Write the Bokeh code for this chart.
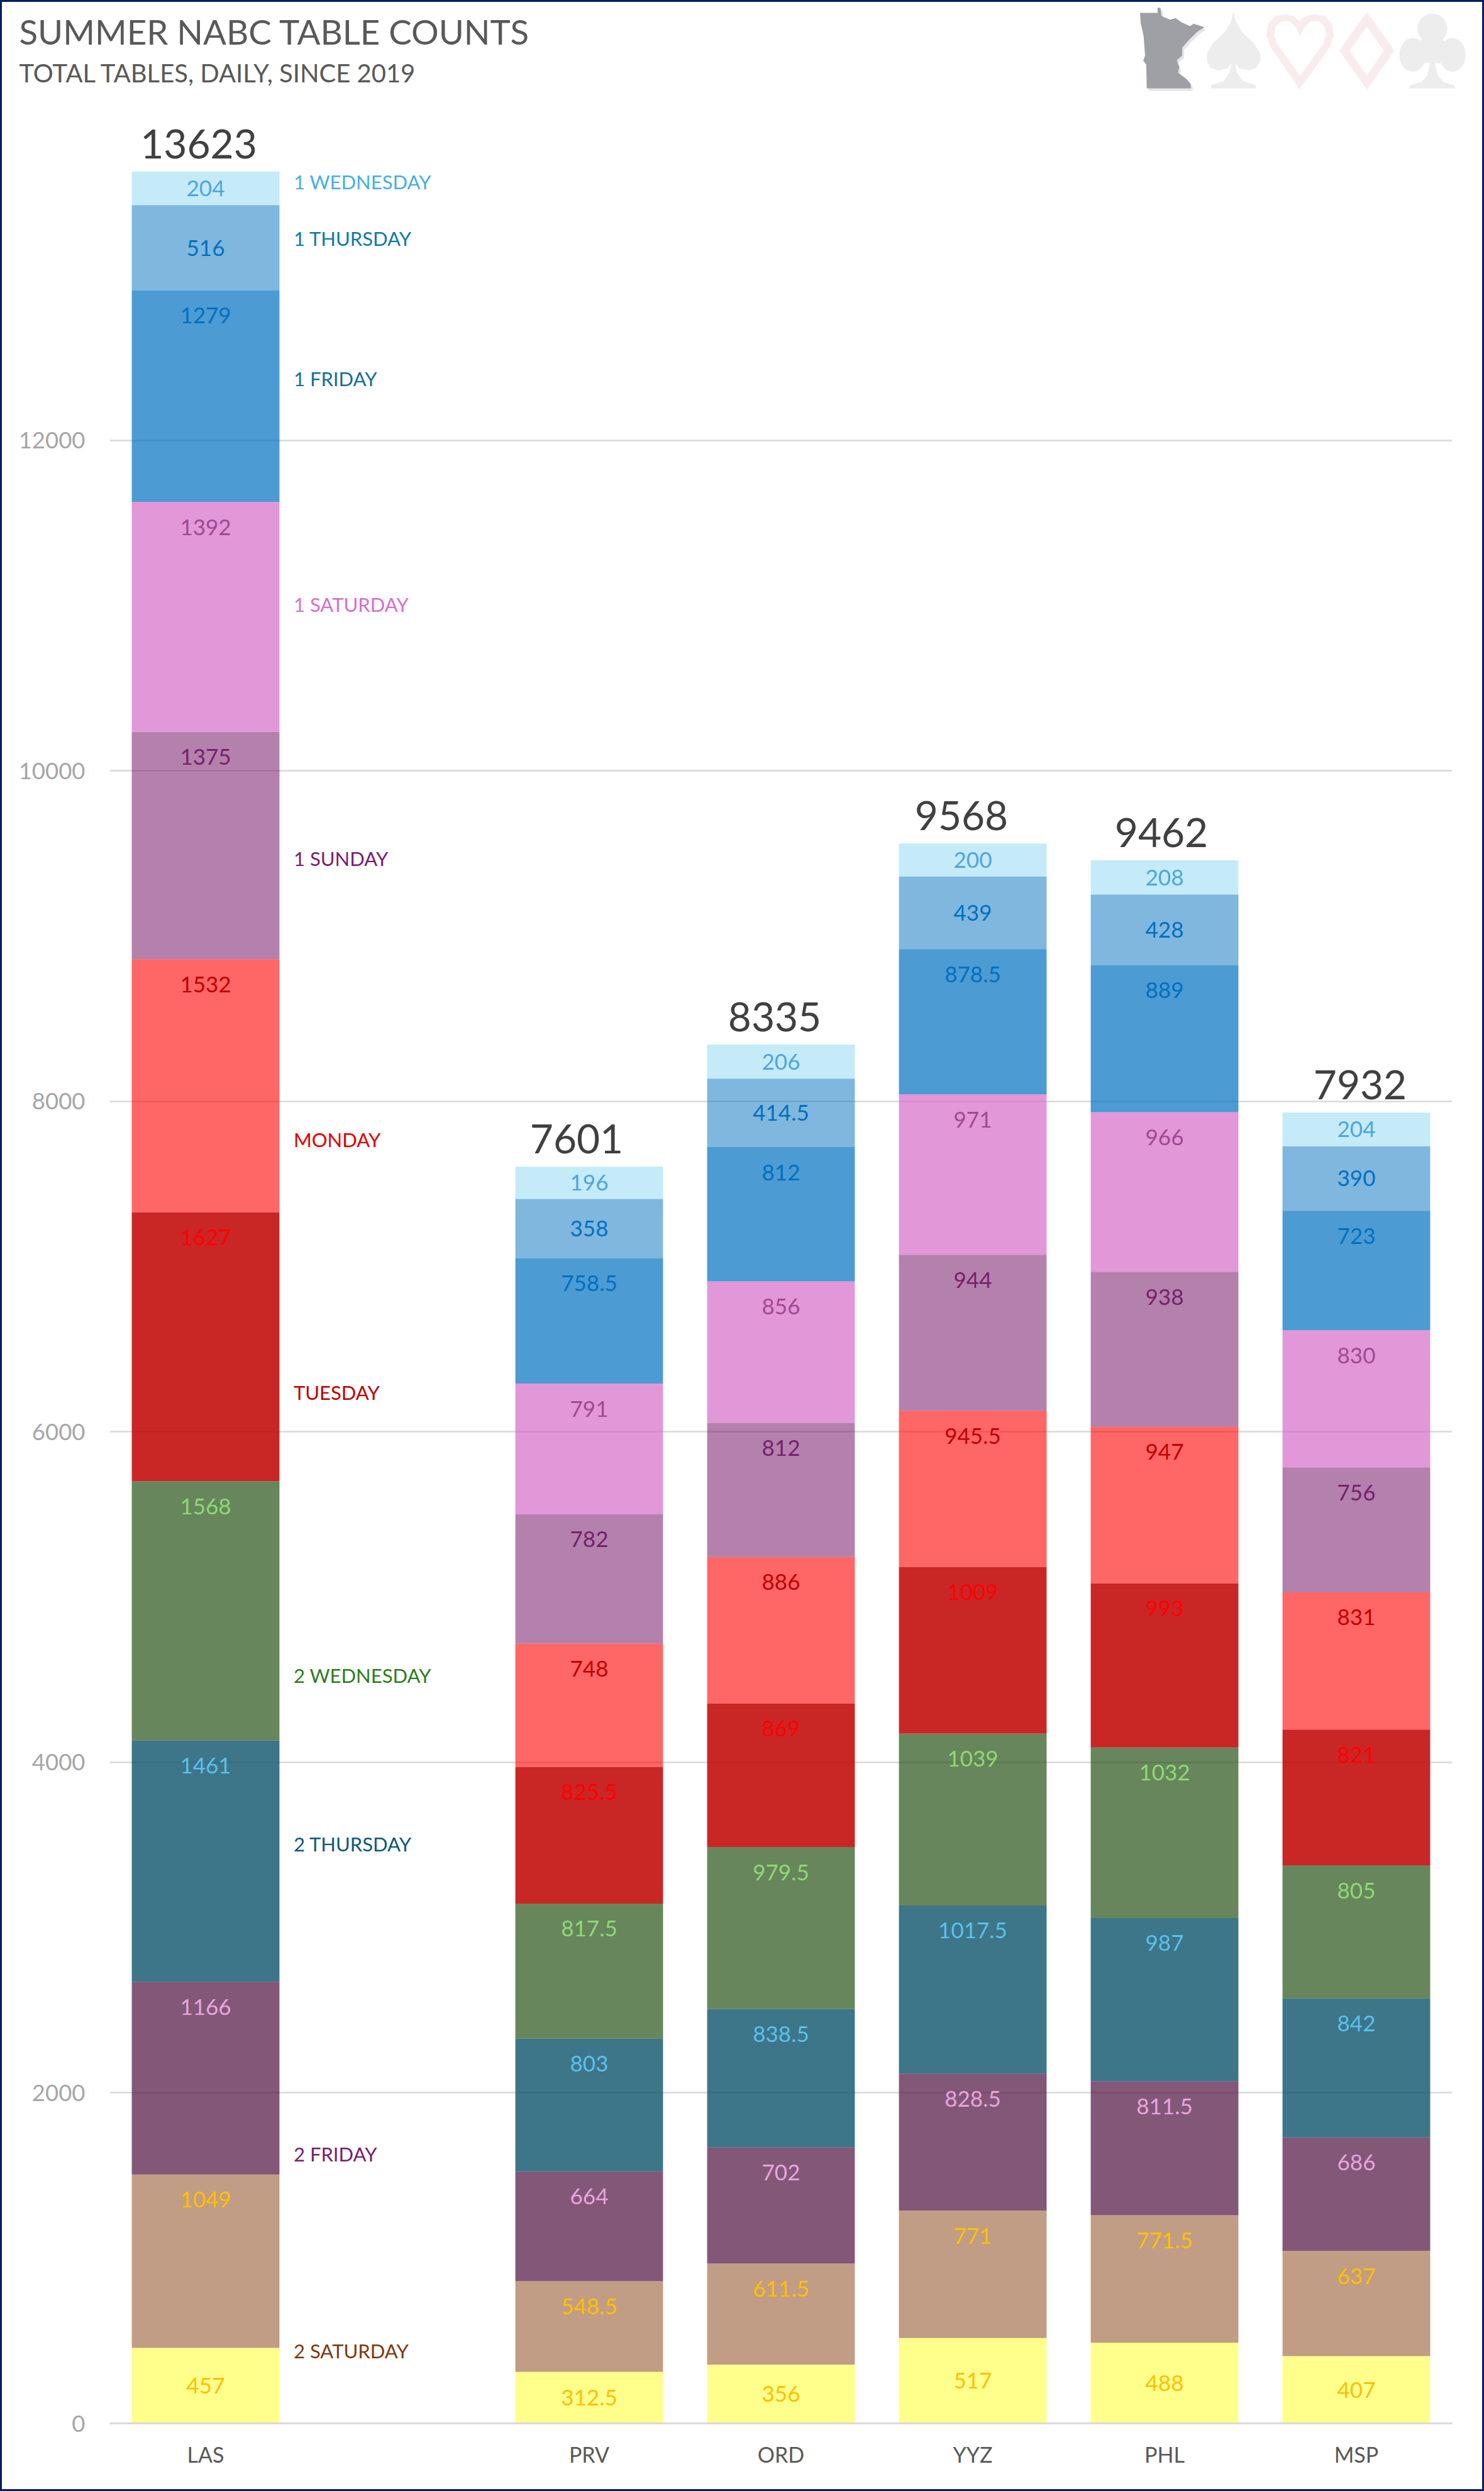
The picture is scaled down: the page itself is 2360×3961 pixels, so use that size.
import numpy as np
from bokeh.core.properties import value
from bokeh.embed import file_html
from bokeh.layouts import column
from bokeh.models import ColumnDataSource, FactorRange, FixedTicker, Range1d
from bokeh.plotting import figure
from bokeh.resources import INLINE

# ---------- data ----------
categories = ["LAS", " ", "PRV", "ORD", "YYZ", "PHL", "MSP"]
bars = ["LAS", "PRV", "ORD", "YYZ", "PHL", "MSP"]
totals = [13623, 7601, 8335, 9568, 9462, 7932]

s_base = [457, 312.5, 356, 517, 488, 407]
s_2sat = [1049, 548.5, 611.5, 771, 771.5, 637]
s_2fri = [1166, 664, 702, 828.5, 811.5, 686]
s_2thu = [1461, 803, 838.5, 1017.5, 987, 842]
s_2wed = [1568, 817.5, 979.5, 1039, 1032, 805]
s_tue = [1627, 825.5, 869, 1009, 993, 821]
s_mon = [1532, 748, 886, 945.5, 947, 831]
s_1sun = [1375, 782, 812, 944, 938, 756]
s_1sat = [1392, 791, 856, 971, 966, 830]
s_1fri = [1279, 758.5, 812, 878.5, 889, 723]
s_1thu = [516, 358, 414.5, 439, 428, 390]
s_1wed = [204, 196, 206, 200, 208, 204]

series = [s_base, s_2sat, s_2fri, s_2thu, s_2wed, s_tue, s_mon, s_1sun, s_1sat, s_1fri, s_1thu, s_1wed]
fills = ["#FFFF00", "#833C0B", "#4E103E", "#0C526B", "#275317", "#C00000",
         "#FF0000", "#771A6A", "#D56BC7", "#0070C0", "#0070C0", "#45C0EC"]
alphas = [0.45, 0.5, 0.7, 0.8, 0.7, 0.85, 0.6, 0.55, 0.7, 0.7, 0.5, 0.31]
label_colors = ["#FFC000", "#FFC000", "#E8A5DE", "#5BC0EB", "#8ED973", "#FF0000",
                "#C00000", "#77206D", "#A04995", "#0070C0", "#0070C0", "#4EA5DC"]
centered = [True, False, False, False, False, False, False, False, False, False, True, True]

side_names = ["2 SATURDAY", "2 FRIDAY", "2 THURSDAY", "2 WEDNESDAY", "TUESDAY", "MONDAY",
              "1 SUNDAY", "1 SATURDAY", "1 FRIDAY", "1 THURSDAY", "1 WEDNESDAY"]
side_y = [430, 1621, 3497, 4517, 6229, 7759, 9460, 10997, 12363, 13212, 13554]
side_colors = ["#7B3A10", "#77206D", "#0F5A78", "#2E7D1E", "#C00000", "#E00000",
               "#77206D", "#D86ECC", "#156E9A", "#0F7AA8", "#45B0E1"]
total_nudge = [-11, -20, -10, -18, -5, 6]

yticks = [0, 2000, 4000, 6000, 8000, 10000, 12000]

title_text = "SUMMER NABC TABLE COUNTS"
subtitle_text = "TOTAL TABLES, DAILY, SINCE 2019"

# ---------- layout (window pixels) ----------
WIN_W, WIN_H = 2360, 3961
EDGE = 3          # navy border
HEAD_BOTTOM = 148  # header strip ends here
LEFT, RIGHT, BOTTOM = 174, 2309, 3853
PX_PER_UNIT = 3580 / 13623
FONT = "Lato"
W = WIN_W - 2 * EDGE

# ---------- header strip: titles and artwork ----------
head = figure(width=W, height=HEAD_BOTTOM - EDGE,
              x_range=Range1d(EDGE, WIN_W - EDGE), y_range=Range1d(HEAD_BOTTOM, EDGE),
              x_axis_location=None, y_axis_location=None, frame_align=False,
              output_backend="svg", toolbar_location=None, tools="",
              min_border_left=0, min_border_right=0, min_border_top=0, min_border_bottom=0)
head.grid.visible = False
head.outline_line_color = None
head.border_fill_color = "white"

head.text(x=[30], y=[49], text=[title_text], text_color="#595959", text_font=value(FONT),
          text_font_size="54.6px", text_align="left", text_baseline="alphabetic")
head.text(x=[30], y=[115], text=[subtitle_text], text_color="#595959", text_font=value(FONT),
          text_font_size="40px", text_align="left", text_baseline="alphabetic")

def shape(pts, color, dx=0.0, dy=0.0):
    a = np.array(pts, dtype=float)
    head.patch(1760 + a[:, 0] / 2.613 + dx, a[:, 1] / 3 + dy, fill_color=color, line_color=None)

def ell(cx, cy, rx, ry):
    t = np.linspace(0, 2 * np.pi, 40)
    return np.c_[cx + rx * np.cos(t), cy + ry * np.sin(t)]

mn = [(137, 60), (210, 60), (210, 35), (222, 35), (226, 75), (262, 92), (285, 85), (310, 105), (345, 123),
      (360, 112), (405, 128), (375, 150), (340, 190), (313, 225), (312, 265), (290, 285), (300, 320), (295, 345),
      (330, 375), (348, 400), (348, 420), (165, 420), (163, 305), (150, 288), (158, 265), (152, 170), (140, 110)]
shape(mn, "#E6E6E8", 3, 4)
shape(mn, "#9FA0A5")

spade = [(525, 52), (515, 100), (490, 150), (440, 205), (415, 255), (415, 290), (430, 322), (465, 335), (500, 325),
         (517, 300), (510, 345), (485, 385), (432, 405), (432, 420), (618, 420), (618, 405), (565, 385), (540, 345),
         (532, 300), (550, 325), (590, 335), (620, 322), (638, 285), (635, 250), (610, 205), (560, 150), (535, 100)]
shape(spade, "#EDEDED")

heart_o = [(800, 425), (680, 225), (662, 170), (670, 110), (700, 75), (745, 65), (780, 78), (800, 100), (820, 78),
           (860, 65), (905, 75), (935, 110), (942, 170), (925, 225)]
heart_i = [(802, 360), (705, 205), (695, 165), (700, 125), (725, 100), (760, 100), (785, 130), (802, 170), (820, 130),
           (845, 100), (880, 100), (905, 125), (910, 165), (900, 205)]
shape(heart_o, "#F9ECEC")
shape(heart_i, "#FFFFFF")

dia_o = [(1080, 55), (1195, 240), (1080, 425), (965, 240)]
dia_i = [(1080, 125), (1150, 240), (1080, 360), (1008, 240)]
shape(dia_o, "#F9ECEC")
shape(dia_i, "#FFFFFF")

shape(ell(1270, 260, 55, 80), "#EDEDED")
shape(ell(1352, 135, 62, 72), "#EDEDED")
shape(ell(1435, 260, 55, 80), "#EDEDED")
shape([(1300, 190), (1400, 190), (1400, 300), (1362, 300), (1375, 360), (1400, 390), (1445, 405), (1445, 420),
       (1258, 420), (1258, 405), (1305, 390), (1330, 360), (1343, 300), (1300, 300)], "#EDEDED")

# ---------- chart ----------
p = figure(width=W, height=WIN_H - EDGE - HEAD_BOTTOM, frame_align=False,
           x_range=FactorRange(*categories, range_padding=0, factor_padding=0, group_padding=0),
           y_range=Range1d(0, (BOTTOM - HEAD_BOTTOM) / PX_PER_UNIT),
           output_backend="svg", toolbar_location=None, tools="")
p.min_border_left = LEFT - EDGE
p.min_border_right = (WIN_W - EDGE) - RIGHT
p.min_border_bottom = (WIN_H - EDGE) - BOTTOM
p.min_border_top = 0
p.outline_line_color = None
p.background_fill_color = "white"
p.border_fill_color = "white"

p.xgrid.visible = False
p.ygrid.ticker = FixedTicker(ticks=yticks)
p.ygrid.grid_line_color = "#D9D9D9"
p.ygrid.grid_line_width = 2.5

p.yaxis.ticker = FixedTicker(ticks=yticks)
p.yaxis.axis_line_color = None
p.yaxis.major_tick_line_color = None
p.yaxis.minor_tick_line_color = None
p.yaxis.major_label_text_color = "#A6A6A6"
p.yaxis.major_label_text_font = FONT
p.yaxis.major_label_text_font_size = "36.5px"
p.yaxis.major_label_standoff = 33

p.xaxis.axis_line_color = "#D9D9D9"
p.xaxis.axis_line_width = 3
p.xaxis.major_tick_line_color = None
p.xaxis.minor_tick_line_color = None
p.xaxis.major_label_text_color = "#595959"
p.xaxis.major_label_text_font = FONT
p.xaxis.major_label_text_font_size = "34px"
p.xaxis.major_label_standoff = 22

bottom = np.zeros(len(bars))
for vals, fill, alpha, lab_col, mid in zip(series, fills, alphas, label_colors, centered):
    top = bottom + np.array(vals, dtype=float)
    src = ColumnDataSource(dict(x=bars, bottom=bottom, top=top,
                                lab=[f"{v:g}" for v in vals],
                                ly=(bottom + top) / 2 if mid else top))
    p.vbar(x="x", bottom="bottom", top="top", width=0.77, source=src,
           fill_color=fill, fill_alpha=alpha, line_color=None)
    p.text(x="x", y="ly", text="lab", source=src, text_color=lab_col,
           text_font=value(FONT), text_font_size="35px", text_align="center",
           text_baseline="middle", y_offset=0 if mid else 40)
    bottom = top

tsrc = ColumnDataSource(dict(x=bars, y=bottom, t=[str(t) for t in totals], dx=total_nudge))
p.text(x="x", y="y", text="t", x_offset="dx", y_offset=-44, source=tsrc, text_color="#404040",
       text_font=value(FONT), text_font_size="64px", text_align="center", text_baseline="alphabetic")

ssrc = ColumnDataSource(dict(x=["LAS"] * len(side_names), y=side_y, t=side_names, c=side_colors))
p.text(x="x", y="y", text="t", text_color="c", source=ssrc, x_offset=140, y_offset=-2.5,
       text_font=value(FONT), text_font_size="31px", text_align="left", text_baseline="middle")

page = column(head, p, spacing=0,
              styles={"border": f"{EDGE}px solid #002060", "background-color": "white"})

open("out.html", "w").write(file_html(page, INLINE))
